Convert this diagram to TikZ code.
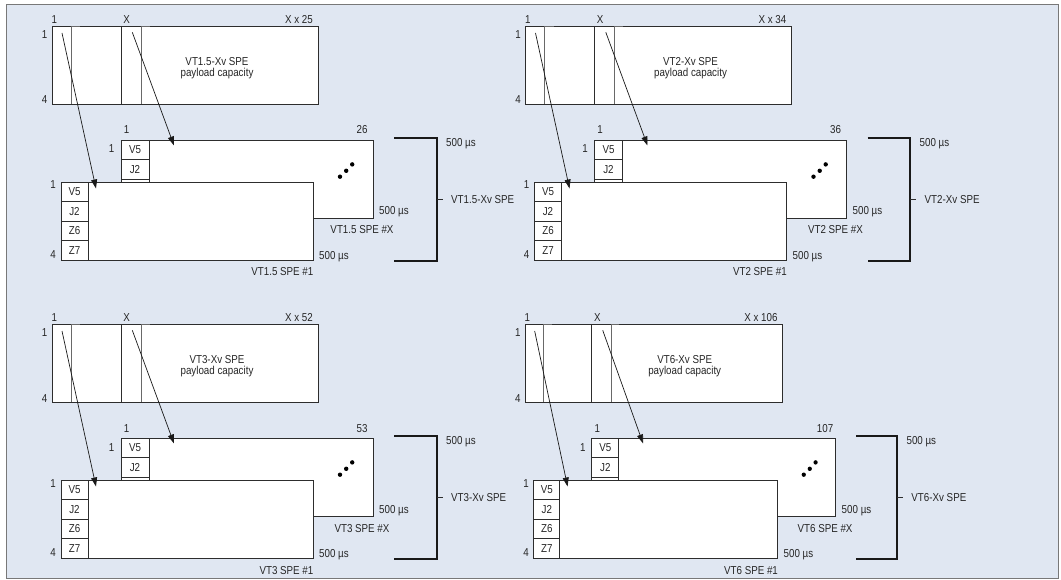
\documentclass[tikz,border=0pt]{standalone}
\usepackage{fontspec}
\setmainfont{Liberation Sans}[FakeStretch=0.85]
\usetikzlibrary{arrows.meta}
\definecolor{bgc}{RGB}{224,231,242}
\definecolor{linec}{RGB}{45,45,45}
\definecolor{greyl}{RGB}{105,105,105}
\definecolor{framec}{RGB}{120,120,120}
\tikzset{
  lbl/.style={font=\fontsize{11.5}{13}\selectfont, inner sep=0pt, text=black!85},
  box/.style={draw=linec, line width=0.8pt, fill=white},
  boxline/.style={draw=linec, line width=0.8pt},
  thinline/.style={draw=greyl, line width=0.8pt},
  brk/.style={draw=black!90, line width=2.2pt, line join=miter},
  arr/.style={draw=black!90, line width=0.7pt, -{Triangle[length=9pt,width=6pt]}},
  dotc/.style={fill=black}
}
\newcommand{\vtpanel}[7]{%
\begin{scope}[shift={(#2,#3)}, xscale=#4]
 % ---- top: payload capacity
 \draw[box] (52,26) rectangle (318,104);
 \draw[thinline] (71,26) -- (71,104);
 \draw[boxline] (121,26) -- (121,104);
 \draw[thinline] (141,26) -- (141,104);
 \draw[thinline] (71,26) -- (80,26);
 \draw[thinline] (141,26) -- (149.5,26);
 \node[lbl, anchor=base] (#1c1) at (54.3,24) {1};
 \node[lbl, anchor=base] (#1cx) at (126.7,24) {X};
 \node[lbl, anchor=base east] (#1cn) at (313,24) {X x #6};
 \node[lbl, anchor=base] (#1r1) at (44.7,38.7) {1};
 \node[lbl, anchor=base] (#1r4) at (44.7,104) {4};
 \node[lbl, anchor=base] (#1t1) at (217,65.7) {#5-Xv SPE};
 \node[lbl, anchor=base] (#1t2) at (217,76.7) {payload capacity};
 % ---- back frame (SPE #X)
 \draw[box] (121,140) rectangle (373,218);
 \draw[boxline] (121,140) rectangle (149,159.5);
 \draw[boxline] (121,159.5) rectangle (149,179);
 \draw[boxline] (121,179) rectangle (149,198.5);
 \draw[boxline] (121,198.5) rectangle (149,218);
 \node[lbl] (#1bv5) at (135,149.75) {V5};
 \node[lbl] (#1bj2) at (135,169.25) {J2};
 \node[lbl, anchor=base] (#1b1) at (126.7,134) {1};
 \node[lbl, anchor=base] (#1bn) at (362,134) {#7};
 \node[lbl, anchor=base] (#1br) at (111.7,153) {1};
 \fill[dotc] (340,176.7) circle (2.2pt);
 \fill[dotc] (346.2,170.8) circle (2.2pt);
 \fill[dotc] (352.2,164.4) circle (2.2pt);
 \node[lbl, anchor=base west] (#1bus) at (379,215) {500 µs};
 \node[lbl, anchor=base] (#1bname) at (362,234) {#5 SPE \#X};
 % ---- front frame (SPE #1)
 \draw[box] (61,182) rectangle (313,260);
 \draw[boxline] (61,182) rectangle (88,201.5);
 \draw[boxline] (61,201.5) rectangle (88,221);
 \draw[boxline] (61,221) rectangle (88,240.5);
 \draw[boxline] (61,240.5) rectangle (88,260);
 \node[lbl] (#1fv5) at (74.5,191.75) {V5};
 \node[lbl] (#1fj2) at (74.5,211.25) {J2};
 \node[lbl] (#1fz6) at (74.5,230.75) {Z6};
 \node[lbl] (#1fz7) at (74.5,250.25) {Z7};
 \node[lbl, anchor=base] (#1f1) at (53,189) {1};
 \node[lbl, anchor=base] (#1f4) at (53,258.5) {4};
 \node[lbl, anchor=base west] (#1fus) at (319,259.5) {500 µs};
 \node[lbl, anchor=base east] (#1fname) at (313.5,276) {#5 SPE \#1};
 % ---- bracket
 \draw[brk] (394,138.3) -- (436.7,138.3) -- (436.7,260.7) -- (394,260.7);
 \draw[boxline] (436.7,199) -- (442.7,199);
 \node[lbl, anchor=base west] (#1kus) at (446,146.7) {500 µs};
 \node[lbl, anchor=base west] (#1kname) at (451,203.3) {#5-Xv SPE};
 % ---- arrows
 \coordinate (#1s1) at (62,33);
 \coordinate (#1e1) at (96,188.5);
 \coordinate (#1s2) at (132.3,32.3);
 \coordinate (#1e2) at (174,145.5);
 \draw[arr] (#1s1) -- (#1e1);
 \draw[arr] (#1s2) -- (#1e2);
\end{scope}}

\begin{document}
\begin{tikzpicture}[x=1pt,y=-1pt]
 \useasboundingbox (0,0) rectangle (1061,580);
 \fill[white] (0,0) rectangle (1061,580);
 \fill[bgc] (6.5,4.5) rectangle (1058.5,578.5);
 \draw[framec, line width=0.8pt] (6.5,4.5) rectangle (1058.5,578.5);
 \vtpanel{a}{0}{0}{1}{VT1.5}{25}{26}
 \vtpanel{b}{473.5}{0}{1}{VT2}{34}{36}
 \vtpanel{c}{0}{298}{1}{VT3}{52}{53}
 \vtpanel{d}{474.66}{298}{0.968}{VT6}{106}{107}
\end{tikzpicture}
\end{document}
